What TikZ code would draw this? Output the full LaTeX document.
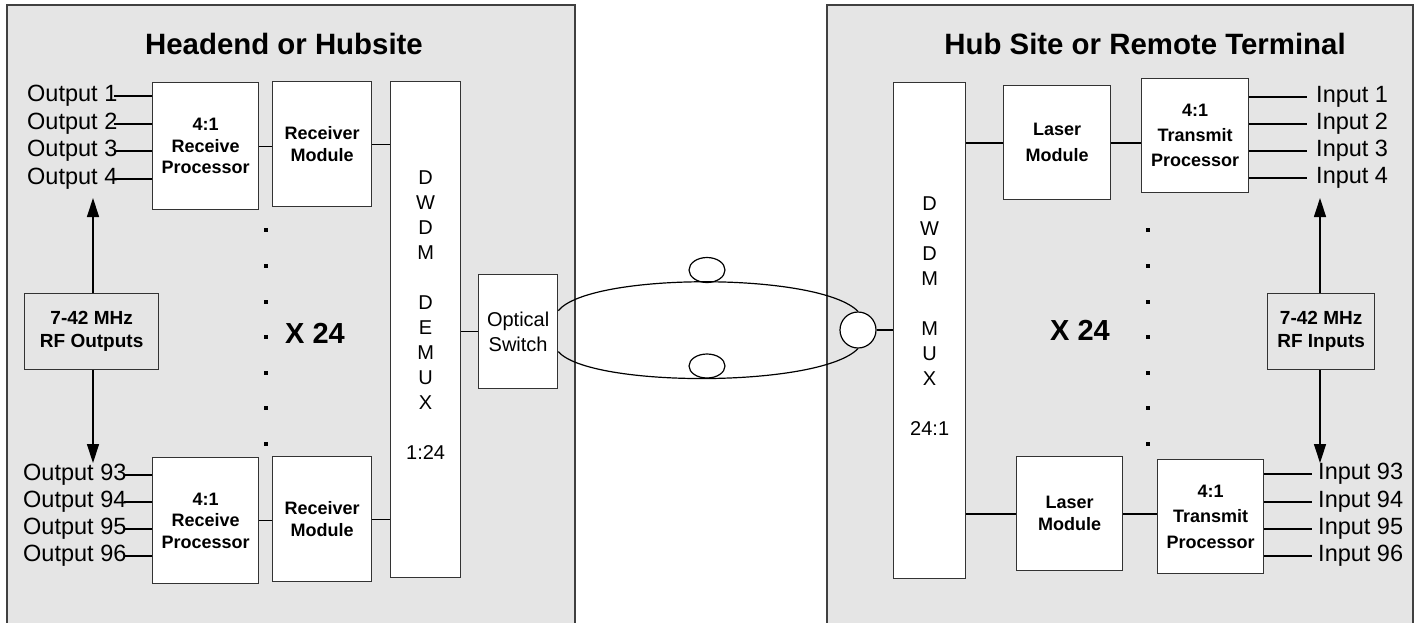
\documentclass[tikz,border=0pt]{standalone}
\usepackage{fontspec}
\setmainfont{Liberation Sans}
\usetikzlibrary{arrows.meta,shapes.geometric}
\begin{document}
\begin{tikzpicture}[x=1pt,y=-1pt,
  panel/.style={draw=black!75,fill=black!10,line width=1.3pt},
  box/.style={draw=black!80,fill=white,line width=1.3pt,inner sep=0pt,align=center,anchor=north west,
    font=\bfseries\fontsize{18}{21.5}\selectfont},
  gbox/.style={box,fill=black!10,font=\bfseries\fontsize{19}{23}\selectfont},
  title/.style={font=\bfseries\fontsize{29.4}{34}\selectfont,inner sep=0pt},
  lbl/.style={inner sep=0pt,anchor=west,font=\fontsize{23.5}{28}\selectfont},
  dwtxt/.style={inner sep=0pt,align=center,font=\fontsize{20}{25}\selectfont},
  big/.style={inner sep=0pt,font=\bfseries\fontsize{29}{34}\selectfont},
  conn/.style={line width=1.3pt,black},
  rconn/.style={line width=1.8pt,black},
  arr/.style={line width=1.3pt,-{Triangle[length=19pt,width=12pt]}},
  fib/.style={line width=1.2pt,black},
  loopc/.style={draw,line width=1.2pt,fill=white,inner sep=0pt}
]
\useasboundingbox (0,0) rectangle (1418,622);
\clip (0,0) rectangle (1418,622);
\fill[white] (0,0) rectangle (1418,622);

% panels
\draw[panel] (7,5) rectangle (575,640);
\draw[panel] (827,5) rectangle (1413,640);

\node[title] (t1) at (284,44) {Headend or Hubsite};
\node[title] (t2) at (1145,44) {Hub Site or Remote Terminal};

% ---------- left side ----------
\node[box,minimum width=106pt,minimum height=127pt] (rpa) at (152,82) {4:1\\Receive\\Processor};
\node[box,minimum width=99pt,minimum height=125pt,font=\bfseries\fontsize{18}{22}\selectfont] (rma) at (272,81) {Receiver\\Module};
\node[box,minimum width=106pt,minimum height=126pt] (rpb) at (152,457) {4:1\\Receive\\Processor};
\node[box,minimum width=99pt,minimum height=125pt,font=\bfseries\fontsize{18}{22}\selectfont] (rmb) at (272,456) {Receiver\\Module};
\node[box,minimum width=70pt,minimum height=496pt] (dw) at (390,81) {};
\node[dwtxt,yshift=14.5pt] (dwt) at (dw.center) {D\\W\\D\\M\\[25pt]D\\E\\M\\U\\X\\[25pt]1:24};
\node[box,minimum width=79pt,minimum height=114pt,font=\fontsize{20}{25}\selectfont] (osw) at (478,274) {Optical\\Switch};
\node[gbox,minimum width=134pt,minimum height=76pt] (rfa) at (24,293) {7-42 MHz\\RF Outputs};

\node[lbl] (o1) at (27,96) {Output 1};
\node[lbl] (o2) at (27,124) {Output 2};
\node[lbl] (o3) at (27,151) {Output 3};
\node[lbl] (o4) at (27,179) {Output 4};
\node[lbl] (o93) at (23,475) {Output 93};
\node[lbl] (o94) at (23,502) {Output 94};
\node[lbl] (o95) at (23,529) {Output 95};
\node[lbl] (o96) at (23,556) {Output 96};
\foreach \n in {o1,o2,o3,o4}{\draw[conn] ([xshift=-4pt]\n.east) -- (\n.east -| rpa.west);}
\foreach \n in {o93,o94,o95,o96}{\draw[conn] ([xshift=-3pt]\n.east) -- (\n.east -| rpb.west);}

\draw[conn] (rpa.east) -- (rpa.east -| rma.west);
\draw[conn] (rma.east) -- (rma.east -| dw.west);
\draw[conn] (rpb.east) -- (rpb.east -| rmb.west);
\draw[conn] (rmb.east) -- (rmb.east -| dw.west);
\draw[conn] (osw.west) -- (osw.west -| dw.east);

\coordinate (ta) at (93,198);
\coordinate (ba) at (93,463);
\draw[arr] (rfa.north -| ta) -- (ta);
\draw[arr] (rfa.south -| ba) -- (ba);

\foreach \yy in {230,266,302,337,373,408,444}{\fill (264,\yy-2) rectangle (268,\yy+2);}
\node[big] (xa) at (315,333) {X 24};

% ---------- fibre ----------
\node[loopc,circle,minimum size=36pt] (cir) at (858,330) {};
\node[loopc,ellipse,minimum width=36pt,minimum height=25pt] (ea) at (707,270) {};
\node[loopc,ellipse,minimum width=36pt,minimum height=24pt] (eb) at (707,366) {};
\draw[fib] ([yshift=21pt]osw.east) .. controls (590,272) and (820,272) .. (cir.north);
\draw[fib] ([yshift=-20pt]osw.east) .. controls (590,388) and (820,388) .. (cir.south);

% ---------- right side ----------
\node[box,minimum width=72pt,minimum height=496pt] (mx) at (893,82) {};
\node[dwtxt,yshift=14.5pt] (mxt) at (mx.center) {D\\W\\D\\M\\[25pt]M\\U\\X\\[25pt]24:1};
\node[box,minimum width=107pt,minimum height=114pt,font=\bfseries\fontsize{18}{26}\selectfont] (lma) at (1003,85) {Laser\\Module};
\node[box,minimum width=107pt,minimum height=114pt,font=\bfseries\fontsize{18}{25}\selectfont] (tpa) at (1141,78) {4:1\\Transmit\\Processor};
\node[box,minimum width=106pt,minimum height=114pt,font=\bfseries\fontsize{18}{22}\selectfont] (lmb) at (1016,456) {Laser\\Module};
\node[box,minimum width=106pt,minimum height=114pt,font=\bfseries\fontsize{18}{25.5}\selectfont] (tpb) at (1157,459) {4:1\\Transmit\\Processor};
\node[gbox,minimum width=107pt,minimum height=76pt] (rfb) at (1267,293) {7-42 MHz\\RF Inputs};

\node[lbl] (i1) at (1316,97) {Input 1};
\node[lbl] (i2) at (1316,124) {Input 2};
\node[lbl] (i3) at (1316,151) {Input 3};
\node[lbl] (i4) at (1316,178) {Input 4};
\node[lbl] (i93) at (1318,474) {Input 93};
\node[lbl] (i94) at (1318,502) {Input 94};
\node[lbl] (i95) at (1318,529) {Input 95};
\node[lbl] (i96) at (1318,556) {Input 96};
\foreach \n in {i1,i2,i3,i4}{\draw[rconn] (\n.west -| tpa.east) -- ([xshift=-9pt]\n.west);}
\foreach \n in {i93,i94,i95,i96}{\draw[rconn] (\n.west -| tpb.east) -- ([xshift=-6pt]\n.west);}

\draw[rconn] (lma.west) -- (lma.west -| mx.east);
\draw[rconn] (lma.east) -- (lma.east -| tpa.west);
\draw[rconn] (lmb.west) -- (lmb.west -| mx.east);
\draw[rconn] (lmb.east) -- (lmb.east -| tpb.west);
\draw[conn] (cir.east) -- (cir.east -| mx.west);

\coordinate (tb) at (1320,198);
\coordinate (bb) at (1320,463);
\draw[arr] (rfb.north -| tb) -- (tb);
\draw[arr] (rfb.south -| bb) -- (bb);

\foreach \yy in {230,266,302,337,373,408,444}{\fill (1146,\yy-2) rectangle (1150,\yy+2);}
\node[big] (xb) at (1080,330) {X 24};
\end{tikzpicture}
\end{document}
